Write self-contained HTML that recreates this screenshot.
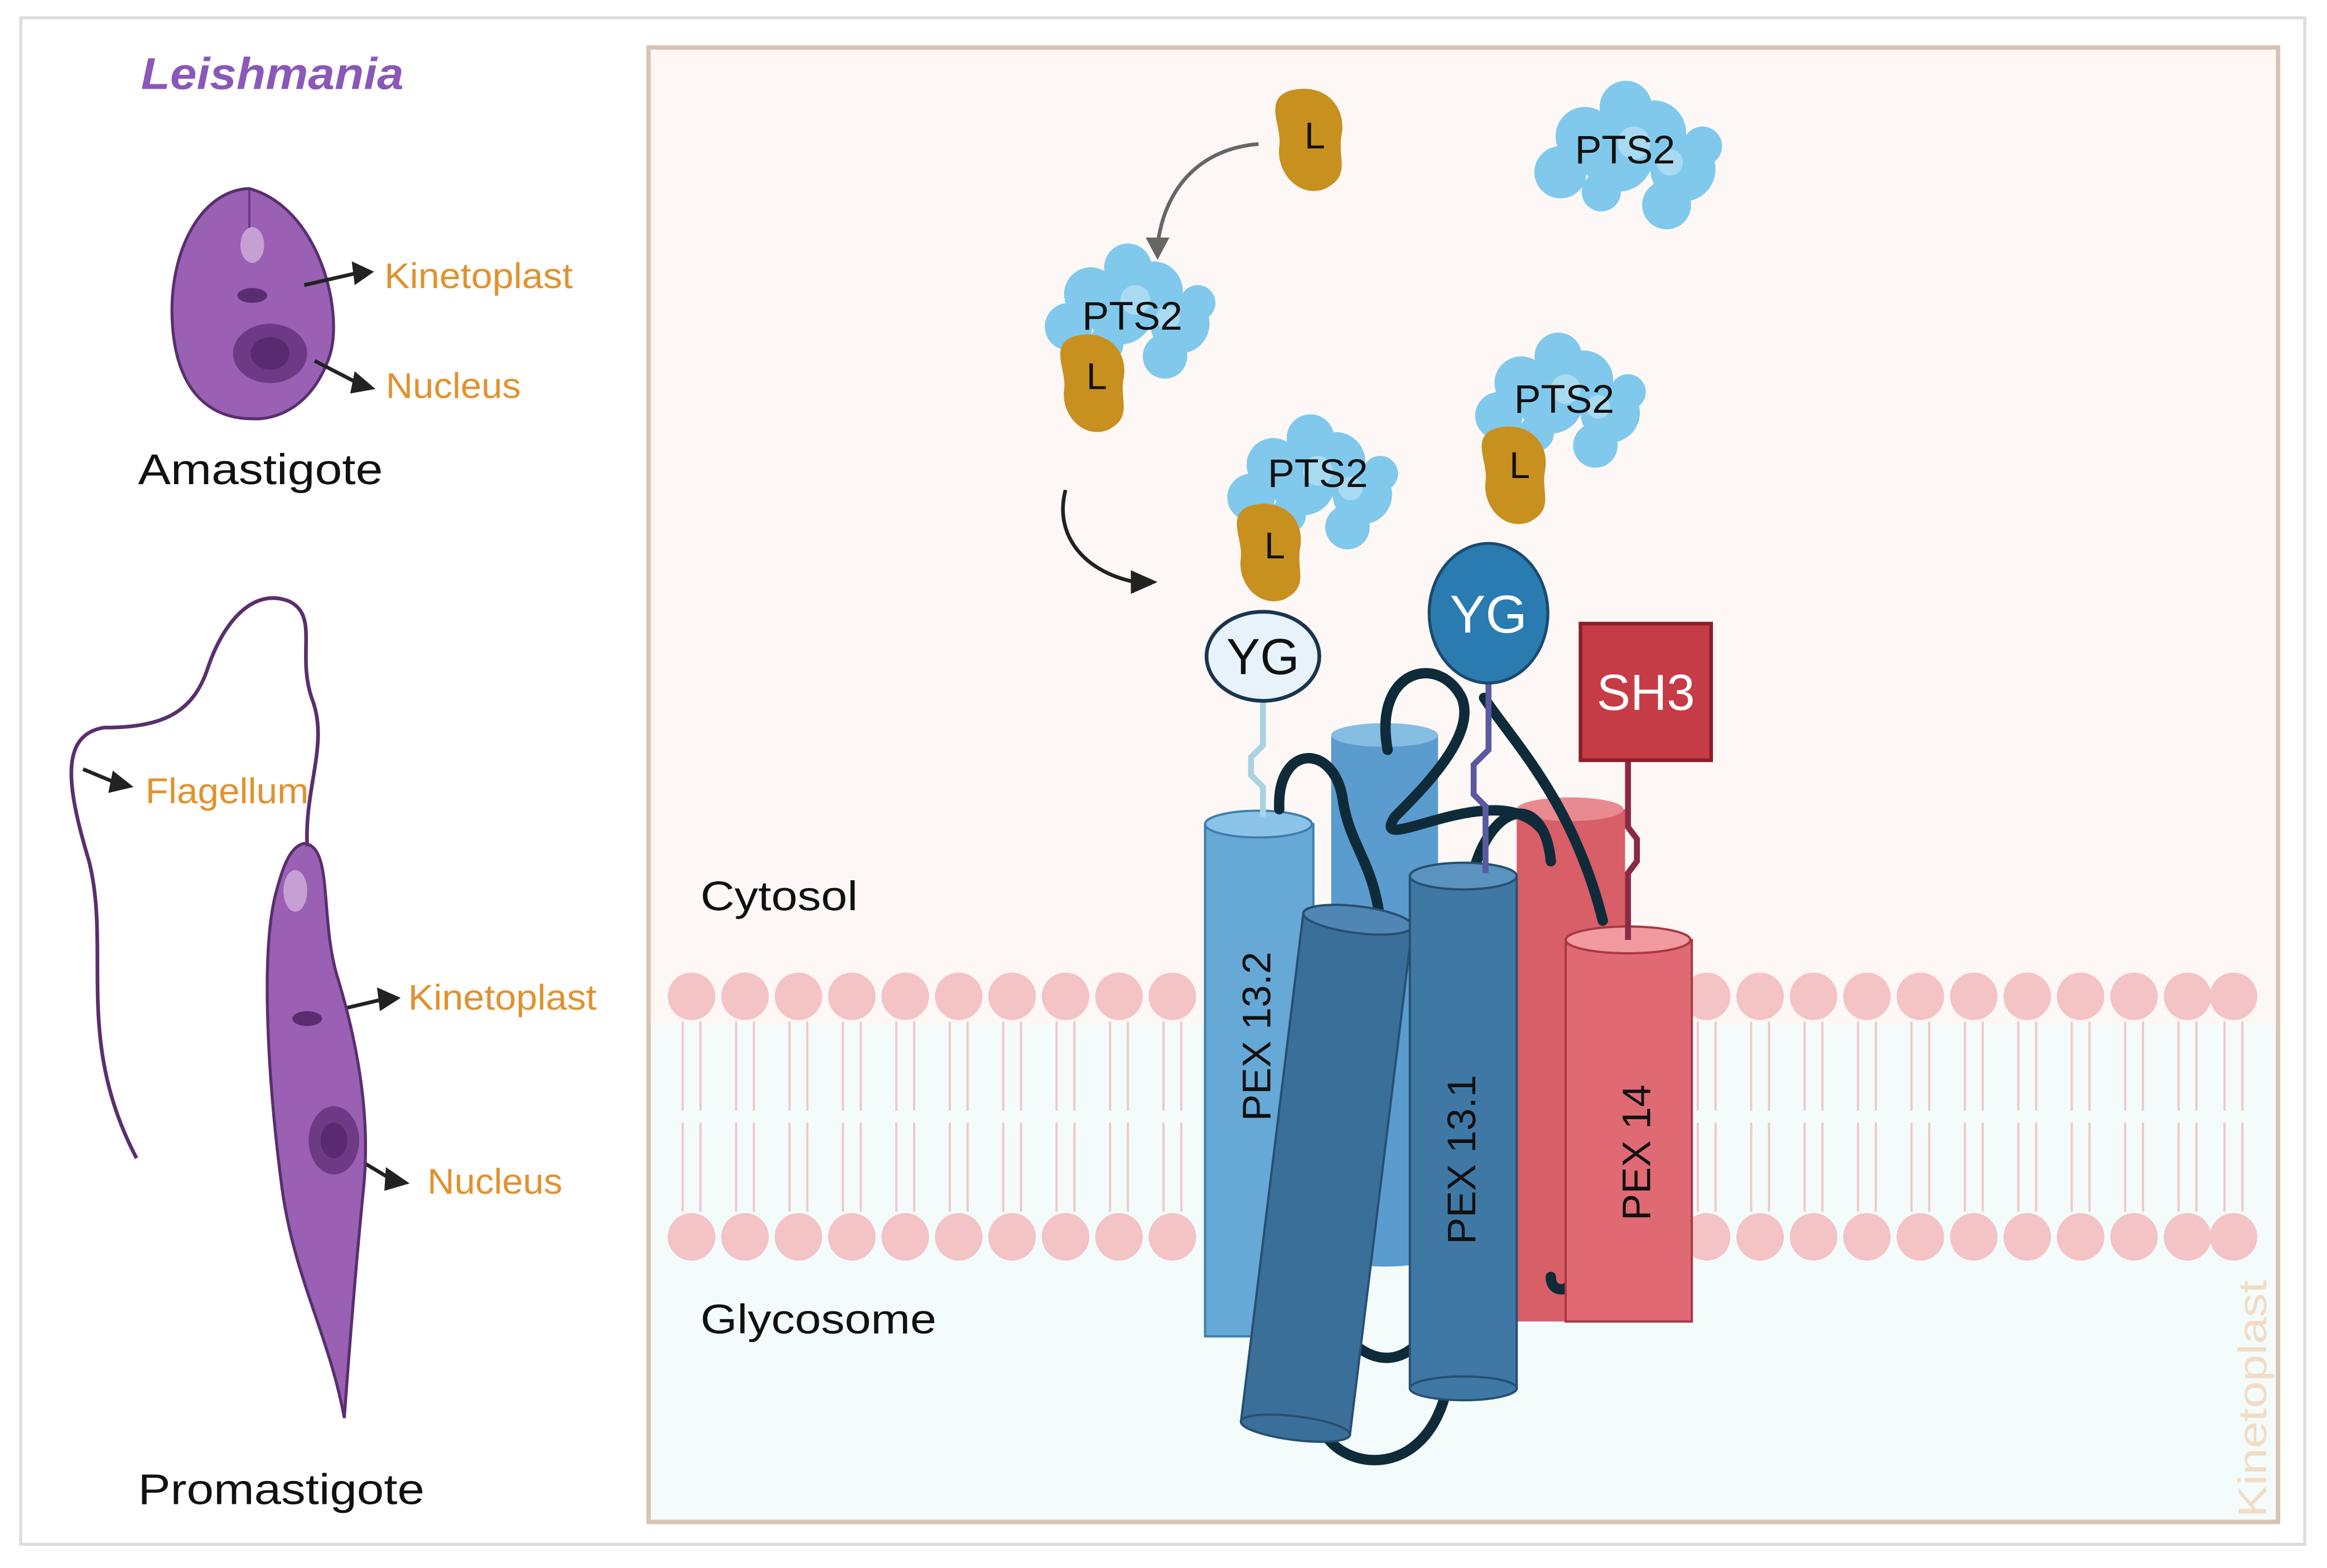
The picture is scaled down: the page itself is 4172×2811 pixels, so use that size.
<!DOCTYPE html>
<html><head><meta charset="utf-8"><style>
html,body{margin:0;padding:0;background:#fff;}
svg{display:block;}
text{font-family:"Liberation Sans",sans-serif;}
</style></head><body>
<svg width="4172" height="2811" viewBox="0 0 1568 1056" preserveAspectRatio="none" xmlns="http://www.w3.org/2000/svg">
<defs>
<g id="pts2">
 <circle cx="0" cy="0" r="22" fill="#80c9ec"/><circle cx="22" cy="-14" r="20" fill="#80c9ec"/><circle cx="-20" cy="-12" r="18" fill="#80c9ec"/>
 <circle cx="40" cy="8" r="20" fill="#80c9ec"/><circle cx="-35" cy="10" r="16" fill="#80c9ec"/><circle cx="5" cy="-30" r="16" fill="#80c9ec"/>
 <circle cx="30" cy="30" r="15" fill="#80c9ec"/><circle cx="-10" cy="22" r="12" fill="#80c9ec"/><circle cx="52" cy="-6" r="12" fill="#80c9ec"/>
 <circle cx="10" cy="-8" r="10" fill="#a8daf2"/><circle cx="32" cy="4" r="8" fill="#a8daf2"/>
</g>
<g id="L">
 <path d="M-14,-28 C8,-34 22,-18 18,0 C16,14 24,24 8,32 C-8,38 -22,22 -20,6 C-18,-6 -30,-22 -14,-28Z" fill="#c8901f"/>
</g>
</defs>
<rect x="0" y="0" width="1568" height="1056" fill="#fff"/>
<rect x="14" y="12" width="1539" height="1028" fill="#fff" stroke="#dcdcdc" stroke-width="2"/>
<rect x="437" y="32" width="1098" height="993" fill="#fdf8f5"/>
<rect x="437" y="690" width="1098" height="335" fill="#f3fbfb"/>
<rect x="437" y="32" width="1098" height="993" fill="none" stroke="#d9c3b4" stroke-width="3"/>
<g fill="#f3c3c6">
 <circle cx="466" cy="671" r="16"/><circle cx="502" cy="671" r="16"/><circle cx="538" cy="671" r="16"/><circle cx="574" cy="671" r="16"/><circle cx="610" cy="671" r="16"/><circle cx="646" cy="671" r="16"/><circle cx="682" cy="671" r="16"/><circle cx="718" cy="671" r="16"/><circle cx="754" cy="671" r="16"/><circle cx="790" cy="671" r="16"/>
 <circle cx="1150" cy="671" r="16"/><circle cx="1186" cy="671" r="16"/><circle cx="1222" cy="671" r="16"/><circle cx="1258" cy="671" r="16"/><circle cx="1294" cy="671" r="16"/><circle cx="1330" cy="671" r="16"/><circle cx="1366" cy="671" r="16"/><circle cx="1402" cy="671" r="16"/><circle cx="1438" cy="671" r="16"/><circle cx="1474" cy="671" r="16"/><circle cx="1505" cy="671" r="16"/>
 <circle cx="466" cy="833" r="16"/><circle cx="502" cy="833" r="16"/><circle cx="538" cy="833" r="16"/><circle cx="574" cy="833" r="16"/><circle cx="610" cy="833" r="16"/><circle cx="646" cy="833" r="16"/><circle cx="682" cy="833" r="16"/><circle cx="718" cy="833" r="16"/><circle cx="754" cy="833" r="16"/><circle cx="790" cy="833" r="16"/>
 <circle cx="1150" cy="833" r="16"/><circle cx="1186" cy="833" r="16"/><circle cx="1222" cy="833" r="16"/><circle cx="1258" cy="833" r="16"/><circle cx="1294" cy="833" r="16"/><circle cx="1330" cy="833" r="16"/><circle cx="1366" cy="833" r="16"/><circle cx="1402" cy="833" r="16"/><circle cx="1438" cy="833" r="16"/><circle cx="1474" cy="833" r="16"/><circle cx="1505" cy="833" r="16"/>
</g>
<g stroke="#f3c7c9" stroke-width="1.5" fill="none">
 <path d="M460,688 v60 M472,688 v60 M496,688 v60 M508,688 v60 M532,688 v60 M544,688 v60 M568,688 v60 M580,688 v60 M604,688 v60 M616,688 v60 M640,688 v60 M652,688 v60 M676,688 v60 M688,688 v60 M712,688 v60 M724,688 v60 M748,688 v60 M760,688 v60 M784,688 v60 M796,688 v60"/>
 <path d="M460,756 v60 M472,756 v60 M496,756 v60 M508,756 v60 M532,756 v60 M544,756 v60 M568,756 v60 M580,756 v60 M604,756 v60 M616,756 v60 M640,756 v60 M652,756 v60 M676,756 v60 M688,756 v60 M712,756 v60 M724,756 v60 M748,756 v60 M760,756 v60 M784,756 v60 M796,756 v60"/>
 <path d="M1144,688 v60 M1156,688 v60 M1180,688 v60 M1192,688 v60 M1216,688 v60 M1228,688 v60 M1252,688 v60 M1264,688 v60 M1288,688 v60 M1300,688 v60 M1324,688 v60 M1336,688 v60 M1360,688 v60 M1372,688 v60 M1396,688 v60 M1408,688 v60 M1432,688 v60 M1444,688 v60 M1468,688 v60 M1480,688 v60 M1499,688 v60 M1511,688 v60"/>
 <path d="M1144,756 v60 M1156,756 v60 M1180,756 v60 M1192,756 v60 M1216,756 v60 M1228,756 v60 M1252,756 v60 M1264,756 v60 M1288,756 v60 M1300,756 v60 M1324,756 v60 M1336,756 v60 M1360,756 v60 M1372,756 v60 M1396,756 v60 M1408,756 v60 M1432,756 v60 M1444,756 v60 M1468,756 v60 M1480,756 v60 M1499,756 v60 M1511,756 v60"/>
</g>
<text x="472" y="613" font-size="28" fill="#111" textLength="106" lengthAdjust="spacingAndGlyphs">Cytosol</text>
<text x="472" y="898" font-size="28" fill="#111" textLength="159" lengthAdjust="spacingAndGlyphs">Glycosome</text>
<text transform="translate(1527,1022) rotate(-90)" font-size="27" fill="#f2dcc4" textLength="160" lengthAdjust="spacingAndGlyphs">Kinetoplast</text>

<rect x="897" y="495" width="72" height="350" fill="#5a9ccd"/><ellipse cx="933" cy="845" rx="36" ry="8" fill="#5a9ccd"/><ellipse cx="933" cy="495" rx="36" ry="8" fill="#85bde3"/>
<rect x="1022" y="545" width="73" height="345" fill="#d85e68"/><ellipse cx="1058" cy="545" rx="36" ry="8" fill="#e98a91"/>
<rect x="812" y="555" width="73" height="345" fill="#66a8d6" stroke="#3e7fb0" stroke-width="1.5"/><ellipse cx="848" cy="555" rx="36" ry="9" fill="#8cc3e8" stroke="#3e7fb0" stroke-width="1.5"/>
<text transform="translate(856,755) rotate(-90)" font-size="27" fill="#111">PEX 13.2</text>
<g fill="none" stroke="#0f2b3a" stroke-width="7" stroke-linecap="round">
 <path d="M862,545 C860,500 900,500 905,540 C910,570 925,580 930,620"/>
 <path d="M935,505 C925,450 970,440 985,470 C995,495 960,530 940,550 C920,580 1010,520 1040,560"/>
 <path d="M1000,470 C1020,500 1060,540 1080,620"/>
 <path d="M990,600 C1000,540 1040,530 1045,580"/>
 <path d="M912,905 C930,920 945,915 955,905"/>
 <path d="M890,960 C900,990 960,1000 975,935"/>
 <path d="M1045,860 C1045,870 1055,870 1058,865"/>
</g>
<g transform="rotate(7 893 790)">
 <rect x="857" y="618" width="74" height="345" fill="#3a6f99" stroke="#274f70" stroke-width="1.5"/><ellipse cx="894" cy="618" rx="37" ry="9" fill="#4f86b3" stroke="#274f70" stroke-width="1.5"/><ellipse cx="894" cy="963" rx="37" ry="8" fill="#3a6f99" stroke="#274f70" stroke-width="1.5"/>
</g>
<rect x="950" y="590" width="72" height="345" fill="#3f78a5" stroke="#274f70" stroke-width="1.5"/><ellipse cx="986" cy="590" rx="36" ry="9" fill="#5a92c0" stroke="#274f70" stroke-width="1.5"/><ellipse cx="986" cy="935" rx="36" ry="8" fill="#3f78a5" stroke="#274f70" stroke-width="1.5"/>
<text transform="translate(994,838) rotate(-90)" font-size="27" fill="#111">PEX 13.1</text>
<rect x="1055" y="633" width="85" height="257" fill="#e06a73" stroke="#a83842" stroke-width="1.5"/><ellipse cx="1097" cy="633" rx="42" ry="9" fill="#f09aa0" stroke="#a83842" stroke-width="1.5"/>
<text transform="translate(1112,822) rotate(-90)" font-size="27" fill="#111">PEX 14</text>
<path d="M851,472 v30 l-8,8 v12 l8,8 v20" stroke="#a9d3e3" stroke-width="4" fill="none"/>
<path d="M1003,460 v45 l-10,10 v20 l8,8 v45" stroke="#5a5aa0" stroke-width="4" fill="none"/>
<path d="M1097,512 v45 l6,8 v15 l-6,8 v45" stroke="#8a2a45" stroke-width="4" fill="none"/>
<ellipse cx="851" cy="442" rx="38" ry="30" fill="#e8f2fb" stroke="#1a3550" stroke-width="2.5"/>
<text x="851" y="454" font-size="34" text-anchor="middle" fill="#111">YG</text>
<ellipse cx="1003" cy="413" rx="40" ry="47" fill="#2a7bb0" stroke="#1a4a70" stroke-width="2"/>
<text x="1003" y="426" font-size="36" text-anchor="middle" fill="#fff">YG</text>
<rect x="1065" y="420" width="88" height="92" fill="#c63c46" stroke="#8a1f28" stroke-width="2.5"/>
<text x="1109" y="478" font-size="34" text-anchor="middle" fill="#fff">SH3</text>
<use href="#pts2" transform="translate(755,210)"/>
<text x="763" y="222" font-size="27" text-anchor="middle" fill="#111">PTS2</text>
<use href="#L" transform="translate(738,256) scale(1.05)"/>
<text x="739" y="262" font-size="25" text-anchor="middle" fill="#111">L</text>
<use href="#pts2" transform="translate(1045,270)"/>
<text x="1054" y="278" font-size="27" text-anchor="middle" fill="#111">PTS2</text>
<use href="#L" transform="translate(1022,318) scale(1.05)"/>
<text x="1024" y="322" font-size="25" text-anchor="middle" fill="#111">L</text>
<use href="#pts2" transform="translate(878,325)"/>
<text x="888" y="328" font-size="27" text-anchor="middle" fill="#111">PTS2</text>
<use href="#L" transform="translate(857,370) scale(1.05)"/>
<text x="859" y="376" font-size="25" text-anchor="middle" fill="#111">L</text>
<use href="#pts2" transform="translate(1090,105) scale(1.1)"/>
<text x="1095" y="110" font-size="27" text-anchor="middle" fill="#111">PTS2</text>
<use href="#L" transform="translate(884,92) scale(1.1)"/>
<text x="886" y="100" font-size="25" text-anchor="middle" fill="#111">L</text>
<path d="M848,97 C810,100 785,125 780,165" stroke="#666" stroke-width="2.5" fill="none"/>
<path d="M772,160 L780,175 L788,160Z" fill="#666"/>
<path d="M718,330 C710,360 730,385 765,392" stroke="#222" stroke-width="2.5" fill="none"/>
<path d="M762,384 L780,392 L762,400Z" fill="#222"/>

<text x="95" y="60" font-size="30" font-weight="bold" font-style="italic" fill="#8a58b8" textLength="177" lengthAdjust="spacingAndGlyphs">Leishmania</text>
<path d="M168,127 C215,140 232,210 222,240 C210,275 185,283 170,282 C140,282 118,262 116,215 C114,170 135,128 168,127Z" fill="#9a60b3" stroke="#5a2f6e" stroke-width="2"/>
<path d="M168,128 v45" stroke="#6a3a80" stroke-width="1.5"/>
<ellipse cx="170" cy="165" rx="8" ry="12" fill="#c6a0d4"/>
<ellipse cx="170" cy="199" rx="10" ry="5" fill="#5a2d70"/>
<ellipse cx="182" cy="238" rx="25" ry="20" fill="#6e3a86"/><ellipse cx="182" cy="238" rx="13" ry="11" fill="#5a2a70"/>
<g stroke="#222" stroke-width="2.5"><path d="M205,192 L240,184"/><path d="M212,243 L243,259"/><path d="M56,518 L80,528"/><path d="M220,682 L258,673"/><path d="M240,780 L265,795"/></g>
<g fill="#222"><path d="M237,176 L252,183 L239,192Z"/><path d="M239,250 L253,262 L236,265Z"/><path d="M76,519 L90,530 L73,534Z"/><path d="M254,665 L270,672 L256,681Z"/><path d="M260,786 L276,797 L259,802Z"/></g>
<text x="259" y="194" font-size="24" fill="#e0922e" textLength="127" lengthAdjust="spacingAndGlyphs">Kinetoplast</text>
<text x="260" y="268" font-size="24" fill="#e0922e" textLength="91" lengthAdjust="spacingAndGlyphs">Nucleus</text>
<text x="93" y="326" font-size="29" fill="#111" textLength="165" lengthAdjust="spacingAndGlyphs">Amastigote</text>
<path d="M205,568 C225,570 215,620 228,660 C240,700 250,750 245,800 C240,850 236,900 232,955 C222,900 198,860 190,800 C182,740 175,650 185,605 C190,585 195,570 205,568Z" fill="#9a60b3" stroke="#5a2f6e" stroke-width="2"/>
<ellipse cx="199" cy="600" rx="8" ry="14" fill="#c6a0d4"/>
<ellipse cx="207" cy="686" rx="10" ry="5" fill="#5a2d70"/>
<ellipse cx="225" cy="768" rx="17" ry="23" fill="#6e3a86"/><ellipse cx="225" cy="768" rx="9" ry="12" fill="#5a2a70"/>
<path d="M207,570 C205,530 222,500 210,470 C200,440 215,415 195,405 C170,395 150,420 140,450 C130,480 110,490 70,490 C40,495 45,530 60,580 C75,640 50,700 92,780" stroke="#5a2f6e" stroke-width="2.5" fill="none"/>
<text x="98" y="541" font-size="24" fill="#e0922e" textLength="110" lengthAdjust="spacingAndGlyphs">Flagellum</text>
<text x="275" y="680" font-size="24" fill="#e0922e" textLength="127" lengthAdjust="spacingAndGlyphs">Kinetoplast</text>
<text x="288" y="804" font-size="24" fill="#e0922e" textLength="91" lengthAdjust="spacingAndGlyphs">Nucleus</text>
<text x="93" y="1013" font-size="29" fill="#111" textLength="193" lengthAdjust="spacingAndGlyphs">Promastigote</text>
</svg>
</body></html>
